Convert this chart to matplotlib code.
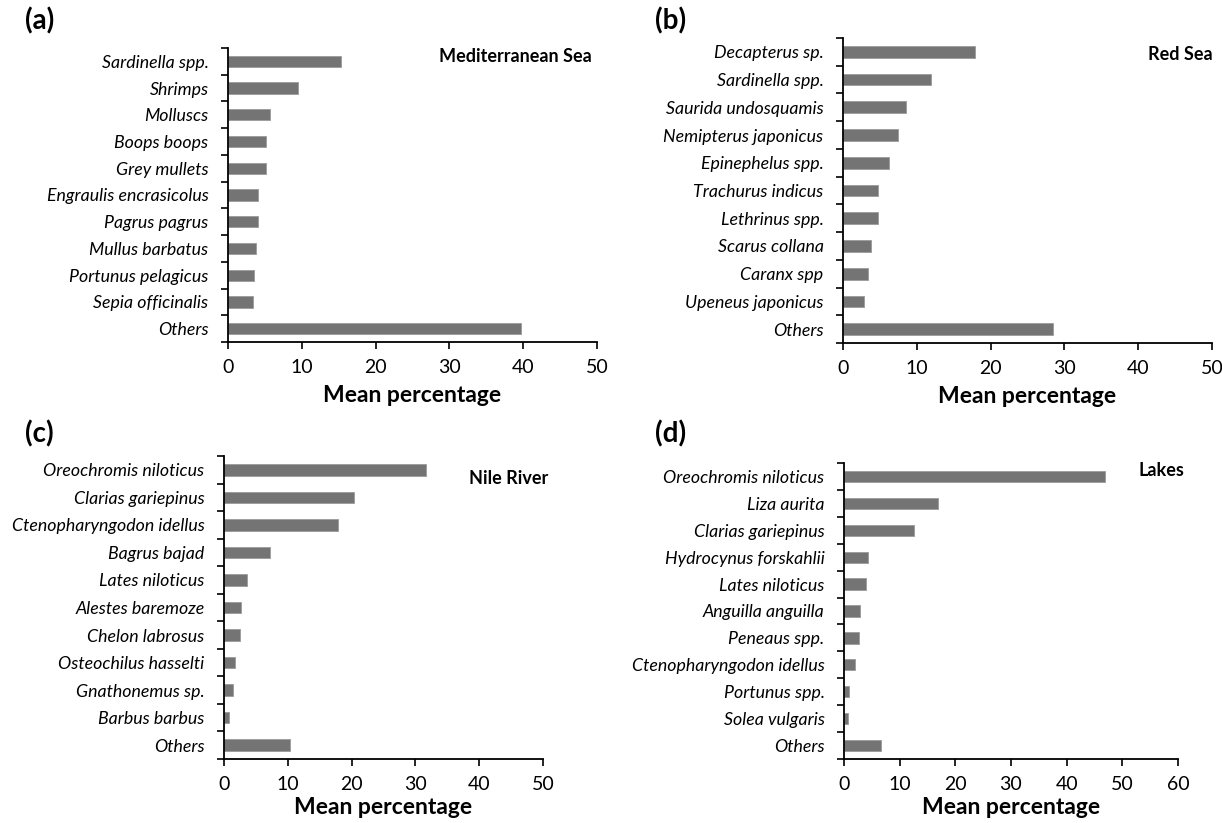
import numpy as np
import matplotlib
matplotlib.use("Agg")
import matplotlib.pyplot as plt

plt.rcParams['font.family'] = ['Lato', 'DejaVu Sans']

# panel (a) Mediterranean Sea
med_species = ['Sardinella spp.', 'Shrimps', 'Molluscs', 'Boops boops', 'Grey mullets',
               'Engraulis encrasicolus', 'Pagrus pagrus', 'Mullus barbatus',
               'Portunus pelagicus', 'Sepia officinalis', 'Others']
med_values = [15.3, 9.5, 5.7, 5.2, 5.2, 4.1, 4.1, 3.75, 3.5, 3.4, 39.7]

# panel (b) Red Sea
red_species = ['Decapterus sp.', 'Sardinella spp.', 'Saurida undosquamis',
               'Nemipterus japonicus', 'Epinephelus spp.', 'Trachurus indicus',
               'Lethrinus spp.', 'Scarus collana', 'Caranx spp', 'Upeneus japonicus', 'Others']
red_values = [17.95, 11.9, 8.5, 7.4, 6.3, 4.8, 4.8, 3.85, 3.4, 2.9, 28.4]

# panel (c) Nile River
nile_species = ['Oreochromis niloticus', 'Clarias gariepinus', 'Ctenopharyngodon idellus',
                'Bagrus bajad', 'Lates niloticus', 'Alestes baremoze', 'Chelon labrosus',
                'Osteochilus hasselti', 'Gnathonemus sp.', 'Barbus barbus', 'Others']
nile_values = [31.6, 20.3, 17.9, 7.2, 3.6, 2.7, 2.5, 1.7, 1.4, 0.75, 10.4]

# panel (d) Lakes
lake_species = ['Oreochromis niloticus', 'Liza aurita', 'Clarias gariepinus',
                'Hydrocynus forskahlii', 'Lates niloticus', 'Anguilla anguilla',
                'Peneaus spp.', 'Ctenopharyngodon idellus', 'Portunus spp.',
                'Solea vulgaris', 'Others']
lake_values = [46.8, 16.9, 12.5, 4.3, 3.9, 2.9, 2.65, 1.9, 0.95, 0.8, 6.7]

W, H = 1222, 823
fig = plt.figure(figsize=(W / 100, H / 100), dpi=100)


def px_axes(x0, x1, y0, y1):
    # pixel box -> figure fraction
    return fig.add_axes([x0 / W, 1 - y1 / H, (x1 - x0) / W, (y1 - y0) / H])


# tag, title, names, values, xmax, axes box (px), tag pos (px), title right/center (px), xlabel pad
panels = [
    ('(a)', 'Mediterranean Sea', med_species, med_values, 50, (228, 597, 48, 342), (25, 21), (592, 57), 7),
    ('(b)', 'Red Sea', red_species, red_values, 50, (843, 1212, 38, 343), (655, 21), (1213, 55), 7),
    ('(c)', 'Nile River', nile_species, nile_values, 50, (224, 543, 456, 759), (25, 434), (548, 478), 3),
    ('(d)', 'Lakes', lake_species, lake_values, 60, (844, 1178, 463, 759), (655, 434), (1184, 470), 3),
]

bar_color = '#747474'

for tag, title, names, vals, xmax, box, tagpos, tpos, lpad in panels:
    ax = px_axes(*box)
    y = np.arange(len(names))
    ax.barh(y, vals, height=0.42, color=bar_color, edgecolor='#9a9a9a', linewidth=0.6)
    ax.set_ylim(len(names) - 0.5, -0.5)
    ax.set_xlim(0, xmax)
    ax.set_xticks(np.arange(0, xmax + 1, 10))
    ax.set_yticks(y)
    ax.set_yticklabels(names, fontstyle='italic', fontsize=12.8)
    ax.set_yticks(np.arange(-0.5, len(names)), minor=True)
    ax.tick_params(axis='y', which='major', length=0, pad=14)
    ax.tick_params(axis='y', which='minor', length=5, width=1.2, direction='out')
    ax.tick_params(axis='x', length=5, width=1.2, direction='out', labelsize=14, pad=7)
    for s in ['top', 'right']:
        ax.spines[s].set_visible(False)
    for s in ['left', 'bottom']:
        ax.spines[s].set_linewidth(1.3)
    ax.set_xlabel('Mean percentage', fontsize=16.5, fontweight='bold', labelpad=lpad)
    fig.text(tpos[0] / W, 1 - tpos[1] / H, title, ha='right', va='center',
             fontsize=13, fontweight='bold')
    fig.text(tagpos[0] / W, 1 - tagpos[1] / H, tag, fontsize=20, fontweight='bold',
             ha='left', va='center')

fig.savefig('out.png', dpi=100)
